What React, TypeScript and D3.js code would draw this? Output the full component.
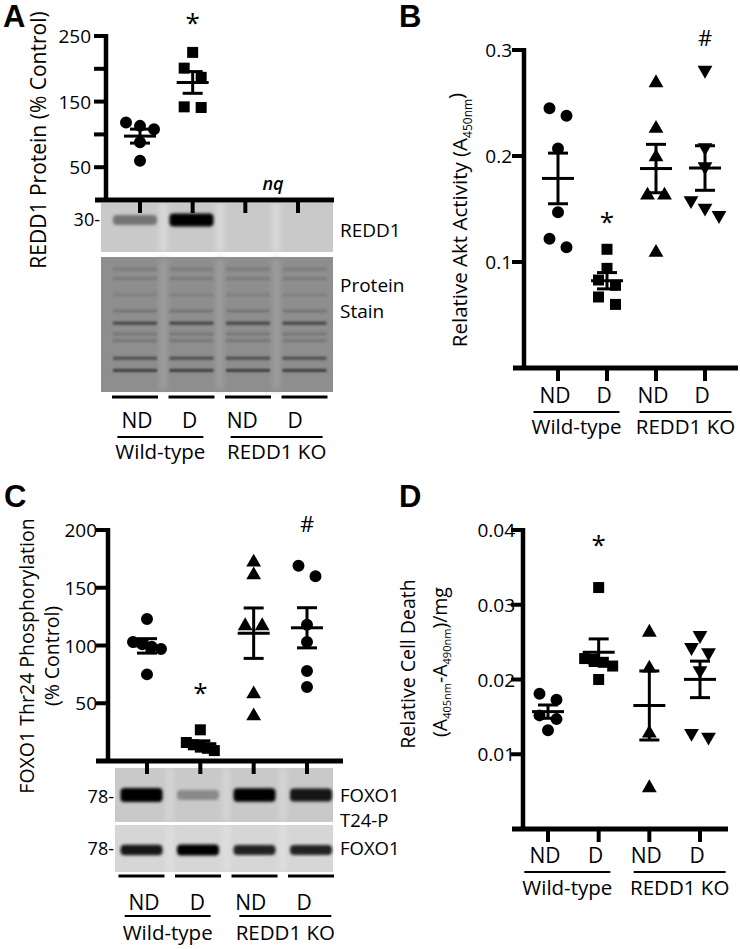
import React from 'react';
import * as d3 from 'd3';

const FONT = '"Open Sans", "Noto Sans", sans-serif';
const W = 740;
const H = 949;

const conditions = ['WT ND', 'WT D', 'KO ND', 'KO D'];
const laneLabels = ['ND', 'D', 'ND', 'D'];
const genotypes = ['Wild-type', 'REDD1 KO'];

// A - REDD1 protein (% control), KO lanes not quantifiable
const redd1WtNd = [60, 88, 108, 113, 118];
const redd1WtD = [141, 142, 187, 201, 225];
const redd1Ticks = [50, 100, 150, 200, 250];
const redd1TickLabels = ['50', '', '150', '', '250'];
const redd1Notes = ['', '*', '', ''];

// B - Akt activity (A450nm)
const aktWtNd = [0.245, 0.238, 0.207, 0.147, 0.122, 0.114];
const aktWtD = [0.112, 0.094, 0.083, 0.078, 0.067, 0.06];
const aktKoNd = [0.269, 0.226, 0.199, 0.163, 0.163, 0.109];
const aktKoD = [0.281, 0.208, 0.19, 0.158, 0.151, 0.144];
const aktTicks = [0.1, 0.2, 0.3];
const aktTickLabels = ['0.1', '0.2', '0.3'];
const aktNotes = ['', '*', '', '#'];

// C - FOXO1 Thr24 phosphorylation (% control)
const foxoWtNd = [123, 103, 101, 99, 97, 75];
const foxoWtD = [27, 16, 14, 12, 11, 9];
const foxoKoNd = [172, 161, 117, 117, 58, 39];
const foxoKoD = [169, 160, 118, 103, 78, 64];
const foxoTicks = [50, 100, 150, 200];
const foxoTickLabels = ['50', '100', '150', '200'];
const foxoNotes = ['', '*', '', '#'];

// D - cell death
const deathWtNd = [0.0181, 0.0173, 0.0152, 0.0147, 0.0132];
const deathWtD = [0.0323, 0.0228, 0.0227, 0.0223, 0.0218, 0.02];
const deathKoNd = [0.0263, 0.0215, 0.0128, 0.0055];
const deathKoD = [0.0259, 0.0243, 0.0236, 0.0212, 0.0128, 0.0123];
const deathTicks = [0.01, 0.02, 0.03, 0.04];
const deathTickLabels = ['0.01', '0.02', '0.03', '0.04'];
const deathNotes = ['', '*', '', ''];

// blots: relative band intensity per lane
const redd1Band = [0.4, 1, 0, 0];
const foxoPBand = [1, 0.3, 0.95, 0.85];
const foxoTotalBand = [0.85, 1, 0.8, 0.8];
// protein stain: relative migration (0 top .. 1 bottom) and darkness
const stainPos = [0.09, 0.16, 0.28, 0.4, 0.49, 0.57, 0.62, 0.75, 0.84];
const stainInk = [0.2, 0.2, 0.15, 0.25, 0.8, 0.25, 0.25, 0.7, 0.9];

type Shape = 'circle' | 'square' | 'triangle' | 'triangleDown';
const symbolType: Record<Shape, d3.SymbolType> = {
  circle: d3.symbolCircle,
  square: d3.symbolSquare,
  triangle: d3.symbolTriangle,
  triangleDown: d3.symbolTriangle,
};
const symbolSize: Record<Shape, number> = { circle: 113, square: 121, triangle: 95, triangleDown: 95 };

//spread points that overlap vertically, graphpad style
function swarm(values: number[], y: (v: number) => number) {
  const pts = values.map(v => ({ v, py: y(v), dx: 0 })).sort((a, b) => a.py - b.py);
  const clusters: (typeof pts)[] = [];
  pts.forEach(p => {
    const last = clusters[clusters.length - 1];
    if (last && p.py - last[last.length - 1].py < 11) last.push(p);
    else clusters.push([p]);
  });
  clusters.forEach(c => {
    const n = c.length;
    if (n < 2) return;
    const s = Math.min(17, 28 / (n - 1));
    c.forEach((p, i) => (p.dx = (i - (n - 1) / 2) * s));
  });
  return pts;
}

type PanelProps = {
  letter: string;
  letterPos: [number, number];
  axisX: number;
  xSpan: [number, number];
  yDomain: [number, number];
  yRange: [number, number];
  ticks: number[];
  tickLabels: string[];
  labelGap: number;
  catRange: [number, number];
  series: (number[] | null)[];
  shapes: Shape[];
  notes: string[];
  noteGap: number;
  laneLabelY: number;
  groupLineY: number;
  groupLabelY: number;
  ylabel: React.ReactNode;
};

function Panel(p: PanelProps) {
  const y = d3.scaleLinear().domain(p.yDomain).range(p.yRange);
  const x = d3.scalePoint<string>().domain(conditions).range(p.catRange);
  const y0 = y(0);
  const groupShift = [-6, 5];
  const groupHalf = [43, 46];

  return (
    <g>
      <text x={p.letterPos[0]} y={p.letterPos[1]} fontFamily='"Liberation Sans", Arial, sans-serif' fontWeight="bold" fontSize={31}>
        {p.letter}
      </text>
      {p.ylabel}

      {/* data */}
      {p.series.map((vals, i) => {
        if (!vals) return null;
        const cx = x(conditions[i])!;
        const shape = p.shapes[i];
        const sym = d3.symbol().type(symbolType[shape]).size(symbolSize[shape])()!;
        const mean = d3.mean(vals)!;
        const sem = d3.deviation(vals)! / Math.sqrt(vals.length);
        return (
          <g key={i}>
            {swarm(vals, y).map((pt, j) => (
              <path
                key={j}
                d={sym}
                transform={`translate(${cx + pt.dx},${pt.py})${shape === 'triangleDown' ? ' rotate(180)' : ''}`}
                fill="#000"
              />
            ))}
            <g stroke="#000" strokeWidth={3}>
              <line x1={cx} x2={cx} y1={y(mean - sem)} y2={y(mean + sem)} />
              <line x1={cx - 16} x2={cx + 16} y1={y(mean)} y2={y(mean)} />
              <line x1={cx - 10} x2={cx + 10} y1={y(mean + sem)} y2={y(mean + sem)} />
              <line x1={cx - 10} x2={cx + 10} y1={y(mean - sem)} y2={y(mean - sem)} />
            </g>
          </g>
        );
      })}

      {/* significance marks */}
      {p.notes.map((n, i) => {
        const vals = p.series[i];
        if (!n || !vals) return null;
        const cy = y(d3.max(vals)!) - p.noteGap;
        return (
          <text key={i} x={x(conditions[i])} y={n === '*' ? cy + 14 : cy + 8} textAnchor="middle" fontSize={n === '*' ? 26 : 22}>
            {n}
          </text>
        );
      })}

      {/* axes */}
      <line x1={p.axisX} x2={p.axisX} y1={y(p.yDomain[1]) - 2} y2={y0} stroke="#000" strokeWidth={4.5} />
      <line x1={p.xSpan[0]} x2={p.xSpan[1]} y1={y0} y2={y0} stroke="#000" strokeWidth={5} />
      {p.ticks.map((t, i) => (
        <g key={t}>
          <line x1={p.axisX - 12} x2={p.axisX} y1={y(t)} y2={y(t)} stroke="#000" strokeWidth={4} />
          <text x={p.axisX - p.labelGap} y={y(t) + 7} textAnchor="end" fontSize={19}>
            {p.tickLabels[i]}
          </text>
        </g>
      ))}
      {conditions.map((c, i) => (
        <g key={c}>
          <line x1={x(c)} x2={x(c)} y1={y0} y2={y0 + 13} stroke="#000" strokeWidth={4} />
          <text x={x(c)! - 3} y={p.laneLabelY} textAnchor="middle" fontSize={21}>
            {laneLabels[i]}
          </text>
        </g>
      ))}
      {genotypes.map((g, i) => {
        const cx = (x(conditions[i * 2])! + x(conditions[i * 2 + 1])!) / 2 + groupShift[i];
        return (
          <g key={g}>
            <line x1={cx - groupHalf[i]} x2={cx + groupHalf[i]} y1={p.groupLineY} y2={p.groupLineY} stroke="#000" strokeWidth={2} />
            <text x={cx} y={p.groupLabelY} textAnchor="middle" fontSize={20.5}>
              {g}
            </text>
          </g>
        );
      })}
    </g>
  );
}

function Blot(props: {
  x0: number; x1: number; y0: number; y1: number;
  lanes: d3.ScalePoint<string>; bg: string; gap: string;
  band: number[]; bandY: number; bandH: number; bandW: number;
}) {
  const { x0, x1, y0, y1, lanes } = props;
  const centers = conditions.map(c => lanes(c)!);
  return (
    <g>
      <rect x={x0} y={y0} width={x1 - x0} height={y1 - y0} fill={props.bg} />
      <clipPath id={`clip-${y0}`}>
        <rect x={x0} y={y0} width={x1 - x0} height={y1 - y0} />
      </clipPath>
      <g clipPath={`url(#clip-${y0})`}>
        {centers.slice(1).map((c, i) => (
          <rect key={i} x={(c + centers[i]) / 2 - 4} y={y0} width={8} height={y1 - y0} fill={props.gap} filter="url(#soft)" />
        ))}
      </g>
      {props.band.map((k, i) =>
        k > 0 ? (
          <rect
            key={i}
            x={centers[i] - props.bandW / 2}
            y={props.bandY - (props.bandH * (0.6 + 0.4 * k)) / 2}
            width={props.bandW}
            height={props.bandH * (0.6 + 0.4 * k)}
            rx={4}
            fill="#000"
            opacity={Math.min(1, k * 1.05)}
            filter="url(#band)"
          />
        ) : null
      )}
    </g>
  );
}

function LaneBars({ lanes, y, half }: { lanes: d3.ScalePoint<string>; y: number; half: number }) {
  return (
    <g>
      {conditions.map(c => (
        <line key={c} x1={lanes(c)! - half} x2={lanes(c)! + half} y1={y} y2={y} stroke="#000" strokeWidth={3} />
      ))}
    </g>
  );
}

export default function App() {
  const lanesA = d3.scalePoint<string>().domain(conditions).range([135, 304.5]);
  const lanesC = d3.scalePoint<string>().domain(conditions).range([141.5, 311]);
  const stainTop = 257;
  const stainBottom = 392;

  return (
    <svg width={W} height={H} style={{ position: 'absolute', left: 0, top: 0, background: '#fff' }} fontFamily={FONT}>
      <defs>
        <filter id="soft" x="-50%" y="-50%" width="200%" height="200%">
          <feGaussianBlur stdDeviation={2.5} />
        </filter>
        <filter id="band" x="-20%" y="-100%" width="140%" height="300%">
          <feGaussianBlur stdDeviation={1.6} />
        </filter>
        <filter id="thin" x="-10%" y="-200%" width="120%" height="500%">
          <feGaussianBlur stdDeviation={1.2} />
        </filter>
      </defs>

      {/* Panel A blots */}
      <Blot x0={101} x1={333} y0={203} y1={252} lanes={lanesA} bg="#c9c9c9" gap="#d8d8d8" band={redd1Band} bandY={220} bandH={13} bandW={44} />
      <rect x={101} y={stainTop} width={232} height={stainBottom - stainTop} fill="#8e8e8e" />
      {conditions.slice(1).map((c, i) => (
        <rect
          key={c}
          x={(lanesA(c)! + lanesA(conditions[i])!) / 2 - 4}
          y={stainTop + 2}
          width={8}
          height={stainBottom - stainTop - 4}
          fill="#9c9c9c"
          filter="url(#soft)"
        />
      ))}
      {conditions.map(c =>
        stainPos.map((pos, j) => (
          <rect
            key={c + j}
            x={lanesA(c)! - 22}
            y={stainTop + pos * (stainBottom - stainTop) - 1.5}
            width={44}
            height={3}
            fill="#333"
            opacity={stainInk[j]}
            filter="url(#thin)"
          />
        ))
      )}
      <LaneBars lanes={lanesA} y={397} half={23} />
      <text x={100} y={226} textAnchor="end" fontSize={18}>30-</text>
      <text x={340} y={237} fontSize={19}>REDD1</text>
      <text x={340} y={292} fontSize={19}>Protein</text>
      <text x={340} y={318} fontSize={19}>Stain</text>
      <text x={273} y={190} textAnchor="middle" fontSize={18} fontStyle="italic" fontWeight="600">nq</text>

      {/* Panel C blots */}
      <Blot x0={115} x1={333} y0={768} y1={822} lanes={lanesC} bg="#c9c9c9" gap="#d4d4d4" band={foxoPBand} bandY={795} bandH={14} bandW={42} />
      <Blot x0={115} x1={333} y0={825} y1={872} lanes={lanesC} bg="#d6d6d6" gap="#dedede" band={foxoTotalBand} bandY={850} bandH={11} bandW={42} />
      <LaneBars lanes={lanesC} y={876} half={23} />
      <text x={114} y={803} textAnchor="end" fontSize={18}>78-</text>
      <text x={114} y={855} textAnchor="end" fontSize={18}>78-</text>
      <text x={340} y={802} fontSize={18.5}>FOXO1</text>
      <text x={340} y={827} fontSize={18.5}>T24-P</text>
      <text x={340} y={855} fontSize={18.5}>FOXO1</text>

      <Panel
        letter="A"
        letterPos={[3, 27]}
        axisX={106}
        xSpan={[95, 334]}
        yDomain={[0, 250]}
        yRange={[200, 36]}
        ticks={redd1Ticks}
        tickLabels={redd1TickLabels}
        labelGap={15}
        catRange={[140, 298]}
        series={[redd1WtNd, redd1WtD, null, null]}
        shapes={['circle', 'square', 'triangle', 'triangleDown']}
        notes={redd1Notes}
        noteGap={34}
        laneLabelY={428}
        groupLineY={437}
        groupLabelY={459}
        ylabel={
          <text transform="translate(46,140) rotate(-90)" textAnchor="middle" fontSize={21}>
            REDD1 Protein (% Control)
          </text>
        }
      />
      <Panel
        letter="B"
        letterPos={[399, 27]}
        axisX={524}
        xSpan={[513, 738]}
        yDomain={[0, 0.3]}
        yRange={[368, 50]}
        ticks={aktTicks}
        tickLabels={aktTickLabels}
        labelGap={12}
        catRange={[558, 705]}
        series={[aktWtNd, aktWtD, aktKoNd, aktKoD]}
        shapes={['circle', 'square', 'triangle', 'triangleDown']}
        notes={aktNotes}
        noteGap={32}
        laneLabelY={403}
        groupLineY={412}
        groupLabelY={434}
        ylabel={
          <text transform="translate(467,220) rotate(-90)" textAnchor="middle" fontSize={20.5}>
            Relative Akt Activity (A
            <tspan fontSize={12} dy={5}>450nm</tspan>
            <tspan dy={-9}>)</tspan>
          </text>
        }
      />
      <Panel
        letter="C"
        letterPos={[4, 507]}
        axisX={108}
        xSpan={[96, 343]}
        yDomain={[0, 200]}
        yRange={[761, 530]}
        ticks={foxoTicks}
        tickLabels={foxoTickLabels}
        labelGap={11}
        catRange={[147, 307]}
        series={[foxoWtNd, foxoWtD, foxoKoNd, foxoKoD]}
        shapes={['circle', 'square', 'triangle', 'circle']}
        notes={foxoNotes}
        noteGap={42}
        laneLabelY={910}
        groupLineY={916}
        groupLabelY={940}
        ylabel={
          <g>
            <text transform="translate(34,656) rotate(-90)" textAnchor="middle" fontSize={19.5}>
              FOXO1 Thr24 Phosphorylation
            </text>
            <text transform="translate(59,656) rotate(-90)" textAnchor="middle" fontSize={19.5}>
              (% Control)
            </text>
          </g>
        }
      />
      <Panel
        letter="D"
        letterPos={[399, 507]}
        axisX={523}
        xSpan={[512, 728]}
        yDomain={[0, 0.04]}
        yRange={[829, 530]}
        ticks={deathTicks}
        tickLabels={deathTickLabels}
        labelGap={8}
        catRange={[548, 700]}
        series={[deathWtNd, deathWtD, deathKoNd, deathKoD]}
        shapes={['circle', 'square', 'triangle', 'triangleDown']}
        notes={deathNotes}
        noteGap={48}
        laneLabelY={863}
        groupLineY={872}
        groupLabelY={895}
        ylabel={
          <g>
            <text transform="translate(415,664) rotate(-90)" textAnchor="middle" fontSize={19.5}>
              Relative Cell Death
            </text>
            <text transform="translate(447,662) rotate(-90)" textAnchor="middle" fontSize={19.5}>
              (A<tspan fontSize={11} dy={4}>405nm</tspan>
              <tspan dy={-4}>-A</tspan>
              <tspan fontSize={11} dy={4}>490nm</tspan>
              <tspan dy={-4}>)/mg</tspan>
            </text>
          </g>
        }
      />
    </svg>
  );
}
